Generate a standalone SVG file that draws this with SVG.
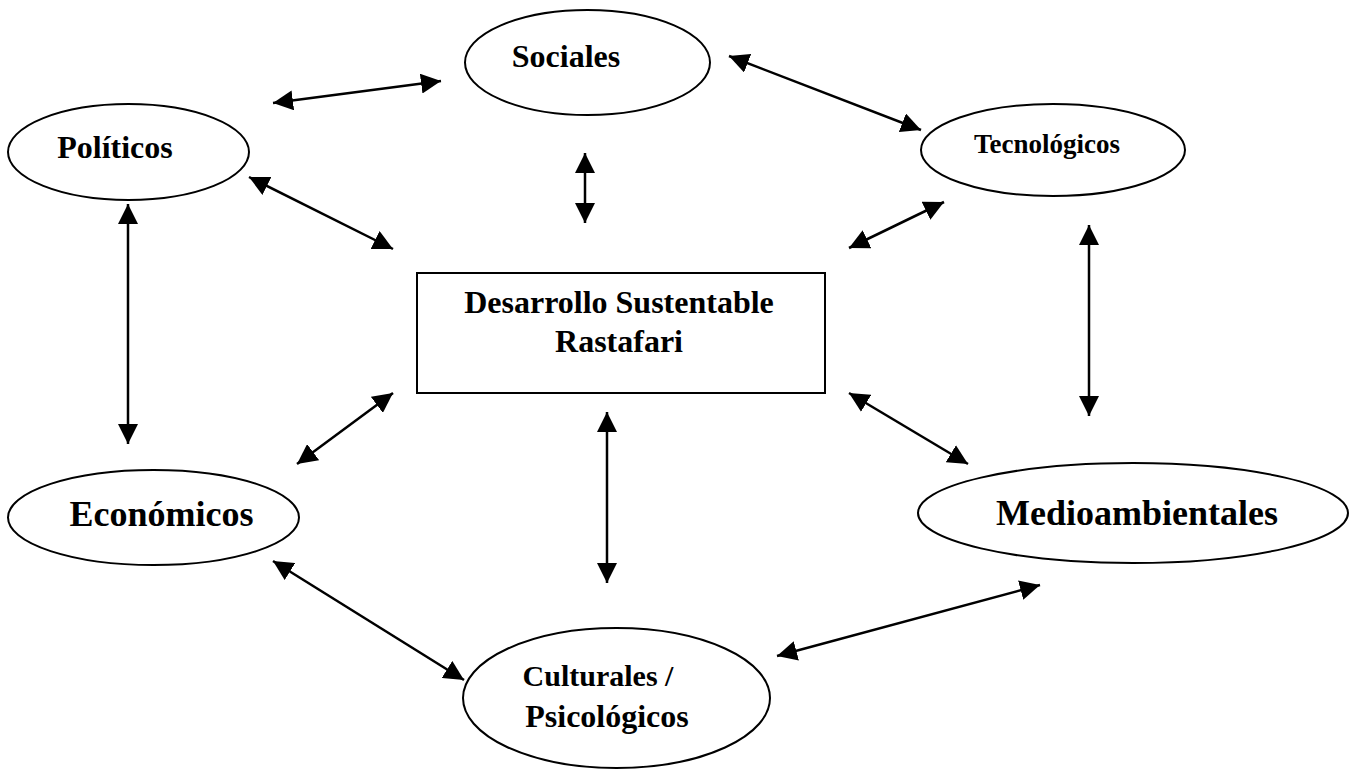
<svg xmlns="http://www.w3.org/2000/svg" width="1363" height="781" viewBox="0 0 1363 781">
<defs>
<marker id="ah" markerUnits="userSpaceOnUse" markerWidth="20" markerHeight="20" refX="20" refY="10" orient="auto-start-reverse" viewBox="0 0 20 20">
<path d="M0,0 L20,10 L0,20 z" fill="#000"/>
</marker>
</defs>
<style>
.shape{fill:#fff;stroke:#000;stroke-width:2}
.lbl{font-family:"Liberation Serif","Times New Roman",serif;font-weight:bold;font-size:32px;fill:#000;text-anchor:middle}
.con{stroke:#000;stroke-width:2.5;fill:none;marker-start:url(#ah);marker-end:url(#ah)}
</style>
<rect width="1363" height="781" fill="#fff"/>
<g id="connectors">
<line class="con" x1="273" y1="103" x2="441" y2="81"/>
<line class="con" x1="249" y1="177" x2="393" y2="249"/>
<line class="con" x1="585" y1="153" x2="585" y2="223"/>
<line class="con" x1="729" y1="56" x2="921" y2="130"/>
<line class="con" x1="944" y1="202" x2="849" y2="248"/>
<line class="con" x1="128" y1="204" x2="128" y2="444"/>
<line class="con" x1="1089" y1="225" x2="1089" y2="416"/>
<line class="con" x1="297" y1="464" x2="393" y2="393"/>
<line class="con" x1="607" y1="412" x2="607" y2="583"/>
<line class="con" x1="849" y1="393" x2="968" y2="464"/>
<line class="con" x1="273" y1="561" x2="464" y2="680"/>
<line class="con" x1="777" y1="656" x2="1040" y2="585"/>
</g>
<g id="sociales">
<ellipse class="shape" cx="587.5" cy="62.5" rx="122.5" ry="52.5"/>
<text class="lbl" x="566" y="67">Sociales</text>
</g>
<g id="politicos">
<ellipse class="shape" cx="128.5" cy="152" rx="120.5" ry="48"/>
<text class="lbl" x="115" y="158">Políticos</text>
</g>
<g id="tecnologicos">
<ellipse class="shape" cx="1053" cy="150" rx="132" ry="46"/>
<text class="lbl" x="1047" y="153" style="font-size:27px">Tecnológicos</text>
</g>
<g id="desarrollo">
<rect class="shape" x="417" y="273" width="408" height="120"/>
<text class="lbl" x="619" y="313">Desarrollo Sustentable</text>
<text class="lbl" x="619" y="352">Rastafari</text>
</g>
<g id="economicos">
<ellipse class="shape" cx="153.5" cy="517.5" rx="145.5" ry="47.5"/>
<text class="lbl" x="161.5" y="526" style="font-size:36px">Económicos</text>
</g>
<g id="medioambientales">
<ellipse class="shape" cx="1133" cy="513" rx="215" ry="50"/>
<text class="lbl" x="1137" y="525" style="font-size:36px">Medioambientales</text>
</g>
<g id="culturales">
<ellipse class="shape" cx="616.5" cy="698" rx="153.5" ry="70"/>
<text class="lbl" x="598" y="686" style="font-size:30px">Culturales /</text>
<text class="lbl" x="607" y="727">Psicológicos</text>
</g>
</svg>
